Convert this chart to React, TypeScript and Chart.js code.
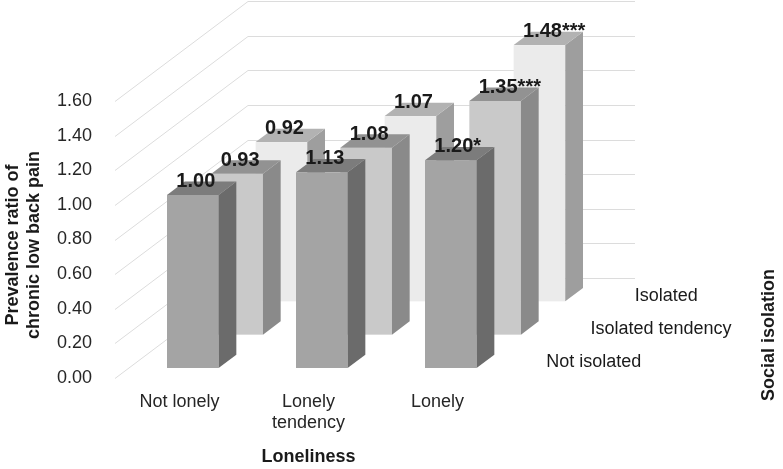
import { useEffect, useRef } from 'react'
import Chart from 'chart.js/auto'

// Loneliness categories (x axis)
const categories = [['Not lonely'], ['Lonely', 'tendency'], ['Lonely']]

// Social isolation rows, front to back
const seriesNames = ['Not isolated', 'Isolated tendency', 'Isolated']
const notIsolated = [1.0, 1.13, 1.2]
const isolatedTendency = [0.93, 1.08, 1.35]
const isolated = [0.92, 1.07, 1.48]
const notIsolatedSig = ['', '', '*']
const isolatedTendencySig = ['', '', '***']
const isolatedSig = ['', '', '***']

const yTicks = [0, 0.2, 0.4, 0.6, 0.8, 1.0, 1.2, 1.4, 1.6]

const seriesValues = [notIsolated, isolatedTendency, isolated]
const seriesSig = [notIsolatedSig, isolatedTendencySig, isolatedSig]

// face colours per row: front, side, top
const rowColors = [
  { front: '#a4a4a4', side: '#6b6b6b', top: '#7c7c7c' },
  { front: '#c9c9c9', side: '#8a8a8a', top: '#929292' },
  { front: '#ebebeb', side: '#9e9e9e', top: '#b2b2b2' }
]

const FONT = "'Liberation Sans', Arial, sans-serif"
const DEPTH_X = 133
const DEPTH_Y = -100
const BAR_WIDTH = 0.4
const BAR_DEPTH = 0.4
const GRID_COLOR = '#dcdcdc'

const depthPlugin = {
  id: 'depth3d',
  beforeDatasetsDraw(chart: any) {
    const { ctx, chartArea, scales } = chart
    const y = scales.y
    ctx.save()
    ctx.strokeStyle = GRID_COLOR
    ctx.lineWidth = 1
    yTicks.forEach(v => {
      const py = Math.round(y.getPixelForValue(v)) + 0.5
      ctx.beginPath()
      ctx.moveTo(chartArea.left, py)
      ctx.lineTo(chartArea.left + DEPTH_X, py + DEPTH_Y)
      ctx.lineTo(chartArea.right + DEPTH_X, py + DEPTH_Y)
      ctx.stroke()
    })
    ctx.restore()
  },
  afterDatasetsDraw(chart: any) {
    const { ctx, scales, data } = chart
    const x = scales.x
    const y = scales.y
    const nRows = data.datasets.length
    const catW = x.getPixelForValue(1) - x.getPixelForValue(0)
    const w = catW * BAR_WIDTH
    const base = y.getPixelForValue(0)
    const labels: any[] = []

    ctx.save()
    for (let i = nRows - 1; i >= 0; i--) {
      const f = (i + 0.5 - BAR_DEPTH / 2) / nRows
      const fdx = f * DEPTH_X
      const fdy = f * DEPTH_Y
      const bdx = (BAR_DEPTH / nRows) * DEPTH_X
      const bdy = (BAR_DEPTH / nRows) * DEPTH_Y
      const col = rowColors[i]
      data.datasets[i].data.forEach((v: number, j: number) => {
        const xc = x.getPixelForValue(j)
        const x0 = xc - w / 2 + fdx
        const x1 = xc + w / 2 + fdx
        const yt = y.getPixelForValue(v) + fdy
        const yb = base + fdy

        ctx.fillStyle = col.front
        ctx.fillRect(x0, yt, x1 - x0, yb - yt)

        ctx.fillStyle = col.side
        ctx.beginPath()
        ctx.moveTo(x1, yt)
        ctx.lineTo(x1 + bdx, yt + bdy)
        ctx.lineTo(x1 + bdx, yb + bdy)
        ctx.lineTo(x1, yb)
        ctx.closePath()
        ctx.fill()

        ctx.fillStyle = col.top
        ctx.beginPath()
        ctx.moveTo(x0, yt)
        ctx.lineTo(x1, yt)
        ctx.lineTo(x1 + bdx, yt + bdy)
        ctx.lineTo(x0 + bdx, yt + bdy)
        ctx.closePath()
        ctx.fill()

        labels.push({ x: (x0 + x1) / 2 + 3, y: yt - 8, text: v.toFixed(2), sig: seriesSig[i][j] })
      })
    }

    ctx.fillStyle = '#1a1a1a'
    ctx.font = `bold 20px ${FONT}`
    ctx.textBaseline = 'alphabetic'
    labels.forEach(l => {
      ctx.textAlign = 'center'
      ctx.fillText(l.text, l.x, l.y)
      if (l.sig) {
        const tw = ctx.measureText(l.text).width
        ctx.textAlign = 'left'
        ctx.fillText(l.sig, l.x + tw / 2, l.y)
      }
    })
    ctx.restore()
  },
  afterDraw(chart: any) {
    const { ctx, chartArea, scales, data } = chart
    const y = scales.y
    const nRows = data.datasets.length
    const base = y.getPixelForValue(0)
    ctx.save()

    // row names on the depth axis
    ctx.fillStyle = '#1a1a1a'
    ctx.font = `18px ${FONT}`
    ctx.textAlign = 'left'
    ctx.textBaseline = 'middle'
    seriesNames.forEach((name, i) => {
      const f = (i + 0.5) / nRows
      ctx.fillText(name, chartArea.right + f * DEPTH_X + 22, base + f * DEPTH_Y + 1)
    })

    // y axis title
    ctx.font = `bold 18px ${FONT}`
    ctx.textAlign = 'center'
    ctx.save()
    ctx.translate(13, 245)
    ctx.rotate(-Math.PI / 2)
    ctx.fillText('Prevalence ratio of', 0, 0)
    ctx.fillText('chronic low back pain', 0, 21)
    ctx.restore()

    // depth axis title
    ctx.save()
    ctx.translate(769, 335)
    ctx.rotate(-Math.PI / 2)
    ctx.fillText('Social isolation', 0, 0)
    ctx.restore()

    ctx.restore()
  }
}

const App = () => {
  const chartRef = useRef<HTMLCanvasElement>(null)
  const chartInstance = useRef<Chart | null>(null)

  useEffect(() => {
    if (!chartRef.current) return
    document.body.style.margin = '0'

    if (chartInstance.current) {
      chartInstance.current.destroy()
    }

    chartInstance.current = new Chart(chartRef.current, {
      type: 'bar',
      data: {
        labels: categories,
        datasets: seriesNames.map((name, i) => ({
          label: name,
          data: seriesValues[i],
          backgroundColor: 'rgba(0,0,0,0)',
          borderWidth: 0
        }))
      },
      options: {
        animation: false,
        responsive: true,
        maintainAspectRatio: false,
        layout: { padding: { top: 101, right: 281, left: 0, bottom: 0 } },
        plugins: {
          legend: { display: false },
          tooltip: { enabled: false }
        },
        scales: {
          x: {
            grid: { display: false, drawTicks: false },
            border: { display: false },
            ticks: {
              font: { family: FONT, size: 18, lineHeight: 1.15 },
              color: '#262626',
              padding: 14,
              maxRotation: 0
            },
            title: {
              display: true,
              text: 'Loneliness',
              font: { family: FONT, size: 18, weight: 'bold' },
              color: '#1a1a1a',
              padding: { top: 0, bottom: 1 }
            },
            afterFit: (s: any) => { s.height = 91 }
          },
          y: {
            min: 0,
            max: 1.6,
            afterBuildTicks: (s: any) => { s.ticks = yTicks.map(v => ({ value: v })) },
            ticks: {
              callback: (v: any) => Number(v).toFixed(2),
              font: { family: FONT, size: 18 },
              color: '#262626',
              padding: 23
            },
            grid: { display: false, drawTicks: false },
            border: { display: false },
            afterFit: (s: any) => { s.width = 115 }
          }
        }
      },
      plugins: [depthPlugin]
    } as any)

    return () => {
      if (chartInstance.current) {
        chartInstance.current.destroy()
        chartInstance.current = null
      }
    }
  }, [])

  return (
    <div style={{ width: '783px', height: '469px', position: 'relative' }}>
      <canvas ref={chartRef}></canvas>
    </div>
  )
}

export default App
